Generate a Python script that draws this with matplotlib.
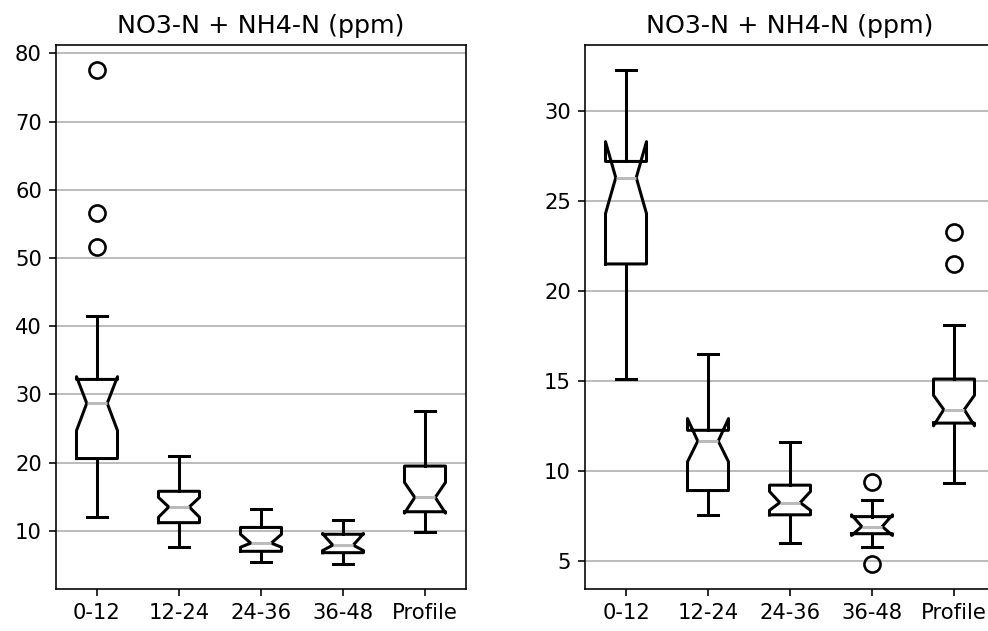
import matplotlib
matplotlib.use('Agg')
import matplotlib.pyplot as plt

labels = ['0-12', '12-24', '24-36', '36-48', 'Profile']
title = 'NO3-N + NH4-N (ppm)'

# left panel: box statistics
left_whislo = [12.0, 7.6, 5.4, 5.1, 9.8]
left_q1 = [20.6, 11.2, 7.0, 6.8, 12.8]
left_cilo = [24.7, 12.0, 7.6, 7.1, 12.6]
left_med = [28.7, 13.5, 8.2, 7.9, 14.9]
left_cihi = [32.6, 14.9, 9.5, 9.6, 17.1]
left_q3 = [32.2, 15.8, 10.5, 9.5, 19.5]
left_whishi = [41.5, 20.9, 13.2, 11.6, 27.6]
left_fliers = [[77.6, 56.6, 51.6], [], [], [], []]

# right panel
right_whislo = [15.1, 7.55, 6.0, 5.74, 9.3]
right_q1 = [21.5, 8.9, 7.55, 6.5, 12.65]
right_cilo = [24.3, 10.5, 7.8, 6.4, 12.5]
right_med = [26.3, 11.65, 8.23, 6.9, 13.4]
right_cihi = [28.3, 12.9, 8.85, 7.55, 14.2]
right_q3 = [27.2, 12.25, 9.2, 7.45, 15.1]
right_whishi = [32.3, 16.5, 11.6, 8.4, 18.1]
right_fliers = [[], [], [], [9.35, 4.8], [23.3, 21.5]]


def make_stats(whislo, q1, cilo, med, cihi, q3, whishi, fliers):
    stats = []
    for i, lab in enumerate(labels):
        stats.append(dict(label=lab, whislo=whislo[i], q1=q1[i], cilo=cilo[i],
                          med=med[i], cihi=cihi[i], q3=q3[i], whishi=whishi[i],
                          fliers=fliers[i]))
    return stats


fig = plt.figure(figsize=(988 / 145, 631 / 145), dpi=145)
W, H = 988.0, 631.0
ax1 = fig.add_axes([56 / W, (H - 589) / H, 410 / W, 544 / H])
ax2 = fig.add_axes([585 / W, (H - 589) / H, 410 / W, 544 / H])

line = dict(color='black', linewidth=1.5)
for ax, st in [(ax1, make_stats(left_whislo, left_q1, left_cilo, left_med,
                                left_cihi, left_q3, left_whishi, left_fliers)),
               (ax2, make_stats(right_whislo, right_q1, right_cilo, right_med,
                                right_cihi, right_q3, right_whishi, right_fliers))]:
    ax.bxp(st, shownotches=True, boxprops=line, whiskerprops=line, capprops=line,
           medianprops=dict(color='#bbbbbb', linewidth=1.5),
           flierprops=dict(marker='o', markerfacecolor='none', markeredgecolor='black',
                           markersize=8, markeredgewidth=1.3))
    ax.set_title(title, fontsize=12.6)
    ax.tick_params(labelsize=10.5)
    ax.yaxis.grid(True, color='#bdbdbd', linewidth=1)
    ax.set_axisbelow(True)

fig.savefig('out.png', dpi=145)
